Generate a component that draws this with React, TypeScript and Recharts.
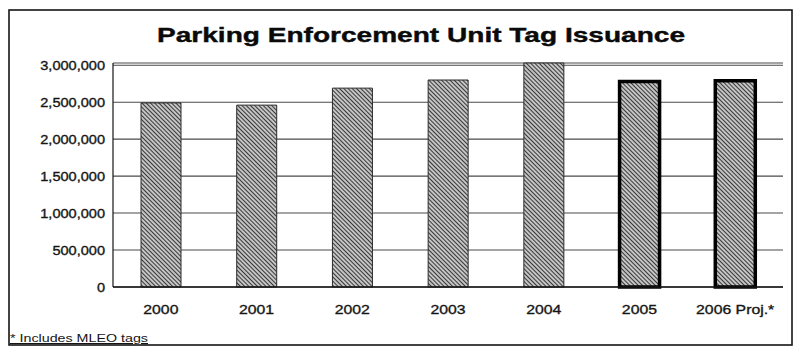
import { BarChart, Bar, Cell, XAxis, YAxis, CartesianGrid } from 'recharts';

// ── Data ──────────────────────────────────────────────────────────────────────
const YEARS = ['2000', '2001', '2002', '2003', '2004', '2005', '2006 Proj.*'];
const TAGS_ISSUED = [2490000, 2460000, 2690000, 2800000, 3030000, 2780000, 2790000];
const HEAVY_OUTLINE = [false, false, false, false, false, true, true];
const Y_TICKS = [0, 500000, 1000000, 1500000, 2000000, 2500000, 3000000];

const rows = YEARS.map((year, i) => ({ year, tags: TAGS_ISSUED[i], heavy: HEAVY_OUTLINE[i] }));

// ── Look ──────────────────────────────────────────────────────────────────────
const W = 801;
const H = 353;
const FONT = "'Liberation Sans', Arial, Helvetica, sans-serif";
const INK = '#151515';
const GRID = '#4a4a4a';

const fmt = (v: number) => v.toLocaleString('en-US');

// Print-style type runs a little wide and heavy, so ticks are stretched and lightly stroked.
function YTick({ x, y, payload }: any) {
  return (
    <text
      transform={`translate(${x},${y}) scale(1.12,1)`}
      textAnchor="end"
      dy="0.36em"
      fontFamily={FONT}
      fontSize={13}
      fill={INK}
      stroke={INK}
      strokeWidth={0.35}
    >
      {fmt(payload.value)}
    </text>
  );
}

function XTick({ x, y, payload }: any) {
  return (
    <text
      transform={`translate(${x},${y}) scale(1.17,1)`}
      textAnchor="middle"
      dy={19}
      fontFamily={FONT}
      fontSize={13.5}
      fill={INK}
      stroke={INK}
      strokeWidth={0.35}
    >
      {payload.value}
    </text>
  );
}

export default function App() {
  return (
    <div style={{ position: 'absolute', left: 0, top: 0, width: W, height: H, background: '#fff' }}>
      <BarChart
        width={W}
        height={H}
        data={rows}
        margin={{ top: 63, right: 18, bottom: 36, left: 13 }}
        barSize={40}
      >
        <defs>
          <pattern id="hatch" width="3" height="3" patternUnits="userSpaceOnUse" patternTransform="rotate(-45)">
            <rect width="3" height="3" fill="#c4c4c4" />
            <line x1="0" y1="0" x2="0" y2="3" stroke="#1e1e1e" strokeWidth="1.7" />
          </pattern>
        </defs>
        <CartesianGrid vertical={false} stroke={GRID} strokeWidth={1.1} />
        <XAxis
          dataKey="year"
          height={30}
          tickLine={false}
          axisLine={{ stroke: INK, strokeWidth: 1.4 }}
          tick={<XTick />}
          interval={0}
        />
        <YAxis
          width={100}
          domain={[0, 'dataMax']}
          ticks={Y_TICKS}
          tickLine={false}
          axisLine={{ stroke: INK, strokeWidth: 1.2 }}
          tick={<YTick />}
        />
        <Bar dataKey="tags" fill="url(#hatch)" isAnimationActive={false}>
          {rows.map((r) => (
            <Cell
              key={r.year}
              stroke={r.heavy ? '#000' : '#2a2a2a'}
              strokeWidth={r.heavy ? 3.5 : 1}
            />
          ))}
        </Bar>
      </BarChart>

      {/* frame, title and footnote */}
      <svg
        width={W}
        height={H}
        style={{ position: 'absolute', left: 0, top: 0, pointerEvents: 'none' }}
      >
        <rect x={9} y={10} width={783} height={335} fill="none" stroke={INK} strokeWidth={1.6} />
        <text
          x={421}
          y={42}
          textAnchor="middle"
          fontFamily={FONT}
          fontWeight="bold"
          fontSize={21}
          textLength={528}
          lengthAdjust="spacingAndGlyphs"
          fill="#0a0a0a"
          stroke="#0a0a0a"
          strokeWidth={0.4}
        >
          Parking Enforcement Unit Tag Issuance
        </text>
        <text
          x={10}
          y={342}
          fontFamily={FONT}
          fontSize={11}
          textLength={138}
          lengthAdjust="spacingAndGlyphs"
          textDecoration="underline"
          fill={INK}
        >
          * Includes MLEO tags
        </text>
      </svg>
    </div>
  );
}
